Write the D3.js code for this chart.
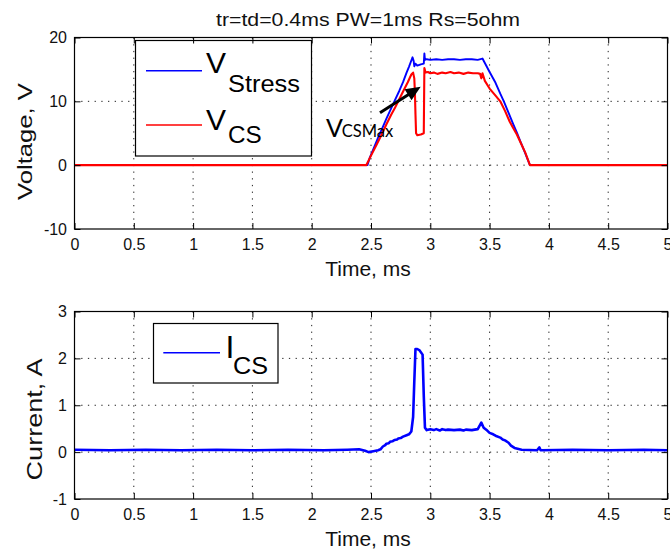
<!DOCTYPE html>
<html><head><meta charset="utf-8">
<script src="https://cdn.jsdelivr.net/npm/d3@7"></script>
<style>
body{margin:0;background:#fff;}
svg{display:block;font-family:"Liberation Sans",Arial,sans-serif;}
</style></head>
<body><svg id="c" width="670" height="553"></svg>
<script>
// ---- data ----
const titleText = "tr=td=0.4ms PW=1ms Rs=5ohm";
const xTicks = [0,0.5,1,1.5,2,2.5,3,3.5,4,4.5,5];
const xTickLabels = ["0","0.5","1","1.5","2","2.5","3","3.5","4","4.5","5"];
const vTicks = [-10,0,10,20];
const vTickLabels = ["-10","0","10","20"];
const iTicks = [-1,0,1,2,3];
const iTickLabels = ["-1","0","1","2","3"];

const vStress = [[0,0],[2.47,0],[2.49,1.2],[2.52,2.5],[2.56,4.3],[2.60,6.0],[2.63,7.3],[2.67,8.9],[2.70,10.1],[2.74,11.7],[2.77,13.0],[2.80,14.5],[2.82,15.4],[2.84,16.4],[2.85,16.9],[2.86,16.3],[2.865,15.5],[2.875,15.9],[2.89,15.6],[2.92,15.8],[2.945,15.9],[2.95,17.5],[2.955,16.5],[2.97,16.6],[3.0,16.5],[3.05,16.6],[3.1,16.5],[3.15,16.6],[3.2,16.6],[3.25,16.5],[3.3,16.6],[3.35,16.6],[3.4,16.5],[3.44,16.7],[3.46,16.0],[3.5,14.6],[3.55,12.9],[3.59,11.2],[3.62,10.0],[3.66,8.2],[3.70,6.4],[3.73,5.1],[3.76,3.7],[3.80,1.9],[3.84,0],[5,0]];
const vCS = [[0,0],[2.46,0],[2.50,1.5],[2.55,3.3],[2.60,5.2],[2.63,6.4],[2.67,7.9],[2.70,8.9],[2.74,10.4],[2.78,11.9],[2.81,13.0],[2.84,14.2],[2.855,14.5],[2.865,13.6],[2.87,11.5],[2.875,8.0],[2.88,5.0],[2.89,4.7],[2.92,4.8],[2.945,5.0],[2.95,15.2],[2.96,14.5],[2.98,14.6],[3.0,14.4],[3.03,14.5],[3.06,14.3],[3.1,14.5],[3.13,14.4],[3.17,14.6],[3.2,14.4],[3.24,14.5],[3.28,14.3],[3.32,14.5],[3.36,14.4],[3.4,14.4],[3.42,14.3],[3.43,13.6],[3.44,14.4],[3.46,13.2],[3.5,12.0],[3.55,10.9],[3.59,10.0],[3.63,8.5],[3.67,6.8],[3.70,5.8],[3.73,4.8],[3.77,3.2],[3.80,2.0],[3.84,0],[5,0]];
const iCS = [[0,0.05],[0.3,0.04],[0.6,0.05],[0.9,0.04],[1.2,0.05],[1.5,0.04],[1.8,0.05],[2.1,0.04],[2.3,0.05],[2.40,0.06],[2.45,0.03],[2.48,0.0],[2.52,0.02],[2.56,0.04],[2.58,0.06],[2.60,0.12],[2.62,0.15],[2.63,0.18],[2.65,0.19],[2.66,0.22],[2.68,0.23],[2.70,0.26],[2.72,0.27],[2.73,0.29],[2.75,0.30],[2.77,0.33],[2.80,0.36],[2.82,0.38],[2.84,0.44],[2.855,0.75],[2.865,1.5],[2.875,2.2],[2.89,2.2],[2.91,2.17],[2.935,2.08],[2.945,1.2],[2.955,0.52],[2.97,0.47],[3.0,0.49],[3.03,0.47],[3.05,0.49],[3.08,0.46],[3.1,0.49],[3.13,0.47],[3.15,0.48],[3.2,0.47],[3.25,0.48],[3.28,0.46],[3.3,0.48],[3.35,0.47],[3.4,0.49],[3.43,0.63],[3.45,0.52],[3.48,0.46],[3.50,0.41],[3.53,0.38],[3.55,0.35],[3.59,0.31],[3.61,0.27],[3.63,0.25],[3.66,0.2],[3.68,0.14],[3.71,0.09],[3.77,0.05],[3.9,0.04],[3.92,0.1],[3.93,0.04],[4.2,0.05],[4.5,0.04],[4.8,0.05],[5,0.04]];

// ---- layout ----
const svg = d3.select("#c");
const L = 74.5, R = 667.5;
const top1 = 37.5, bot1 = 229;
const top2 = 311.5, bot2 = 499;

const x = d3.scaleLinear().domain([0,5]).range([L,R]);
const yV = d3.scaleLinear().domain([-10,20]).range([bot1,top1]);
const yI = d3.scaleLinear().domain([-1,3]).range([bot2,top2]);

function panel(y, yTicks, top, bot){
  const g = svg.append("g");
  g.append("g").selectAll("line").data(xTicks.slice(1,-1)).join("line")
    .attr("x1",d=>x(d)).attr("x2",d=>x(d)).attr("y1",top).attr("y2",bot)
    .attr("stroke","#222").attr("stroke-width",1).attr("stroke-dasharray","1.3,5.4");
  g.append("g").selectAll("line").data(yTicks.slice(1,-1)).join("line")
    .attr("x1",L).attr("x2",R).attr("y1",d=>y(d)).attr("y2",d=>y(d))
    .attr("stroke","#222").attr("stroke-width",1).attr("stroke-dasharray","1.3,5.4");
  return g;
}
function axes(y, yTicks, yLabels, top, bot){
  const g = svg.append("g");
  g.append("g").attr("transform",`translate(0,${bot})`)
    .call(d3.axisBottom(x).tickValues(xTicks).tickFormat((d,i)=>xTickLabels[i]).tickSize(-6).tickPadding(9.6));
  g.append("g").attr("transform",`translate(0,${top})`)
    .call(d3.axisTop(x).tickValues(xTicks).tickFormat("").tickSize(-6));
  g.append("g").attr("transform",`translate(${L},0)`)
    .call(d3.axisLeft(y).tickValues(yTicks).tickFormat((d,i)=>yLabels[i]).tickSize(-6).tickPadding(7.5));
  g.append("g").attr("transform",`translate(${R},0)`)
    .call(d3.axisRight(y).tickValues(yTicks).tickFormat("").tickSize(-6));
  g.selectAll(".domain").remove();
  g.selectAll(".tick line").attr("stroke","#000");
  g.selectAll(".tick text").attr("font-size",16).attr("fill","#111")
    .attr("font-family","'Liberation Sans',Arial,sans-serif");
  g.append("rect").attr("x",L).attr("y",top).attr("width",R-L).attr("height",bot-top)
    .attr("fill","none").attr("stroke","#000").attr("stroke-width",1.2);
}

// ---- top panel ----
panel(yV, vTicks, top1, bot1);
const lineV = d3.line().x(d=>x(d[0])).y(d=>yV(d[1]));
svg.append("path").datum(vStress).attr("d",lineV).attr("fill","none")
  .attr("stroke","#0000ff").attr("stroke-width",1.9).attr("stroke-linejoin","round");
svg.append("path").datum(vCS).attr("d",lineV).attr("fill","none")
  .attr("stroke","#ff0000").attr("stroke-width",2.1).attr("stroke-linejoin","round");

// legend top
svg.append("rect").attr("x",135.5).attr("y",40.5).attr("width",176).attr("height",115.5)
  .attr("fill","#fff").attr("stroke","#000").attr("stroke-width",1.2);
svg.append("line").attr("x1",146).attr("x2",202).attr("y1",70.7).attr("y2",70.7)
  .attr("stroke","#0000ff").attr("stroke-width",1.6);
svg.append("line").attr("x1",146).attr("x2",202).attr("y1",125).attr("y2",125)
  .attr("stroke","#ff0000").attr("stroke-width",1.6);
svg.append("text").attr("x",206).attr("y",73.3).attr("font-size",30).text("V");
svg.append("text").attr("x",228).attr("y",91.7).attr("font-size",23)
  .attr("textLength",72).attr("lengthAdjust","spacingAndGlyphs").text("Stress");
svg.append("text").attr("x",206).attr("y",130).attr("font-size",30).text("V");
svg.append("text").attr("x",228).attr("y",143.3).attr("font-size",24)
  .attr("textLength",33.7).attr("lengthAdjust","spacingAndGlyphs").text("CS");

axes(yV, vTicks, vTickLabels, top1, bot1);

// annotation
svg.append("text").attr("x",326).attr("y",136.7).attr("font-size",25)
  .attr("font-family","Lato,'Open Sans',sans-serif").text("V");
svg.append("text").attr("x",341.7).attr("y",137.3).attr("font-size",16.5)
  .attr("font-family","Lato,'Open Sans',sans-serif")
  .attr("textLength",51.6).attr("lengthAdjust","spacingAndGlyphs").text("CSMax");
{
  const ax0=380, ay0=112.7, ax1=420.7, ay1=86.7;
  const dx=ax1-ax0, dy=ay1-ay0, len=Math.hypot(dx,dy), ux=dx/len, uy=dy/len;
  const hl=15, hw=6.5, bx=ax1-hl*ux, by=ay1-hl*uy;
  svg.append("line").attr("x1",ax0).attr("y1",ay0).attr("x2",bx+2*ux).attr("y2",by+2*uy)
    .attr("stroke","#000").attr("stroke-width",3);
  svg.append("polygon").attr("points",
    `${ax1},${ay1} ${bx-hw*uy},${by+hw*ux} ${bx+hw*uy},${by-hw*ux}`).attr("fill","#000");
}

// ---- bottom panel ----
panel(yI, iTicks, top2, bot2);
const lineI = d3.line().x(d=>x(d[0])).y(d=>yI(d[1]));
svg.append("path").datum(iCS).attr("d",lineI).attr("fill","none")
  .attr("stroke","#0000ff").attr("stroke-width",2.6).attr("stroke-linejoin","round");

svg.append("rect").attr("x",153.5).attr("y",323.5).attr("width",124.5).attr("height",59.5)
  .attr("fill","#fff").attr("stroke","#000").attr("stroke-width",1.2);
svg.append("line").attr("x1",163.3).attr("x2",220).attr("y1",352.7).attr("y2",352.7)
  .attr("stroke","#0000ff").attr("stroke-width",1.6);
svg.append("text").attr("x",225.5).attr("y",358.3).attr("font-size",32).text("I");
svg.append("text").attr("x",233).attr("y",374).attr("font-size",24)
  .attr("textLength",35).attr("lengthAdjust","spacingAndGlyphs").text("CS");

axes(yI, iTicks, iTickLabels, top2, bot2);

// ---- titles & labels ----
svg.append("text").attr("x",216).attr("y",26).attr("font-size",18.5).attr("fill","#111")
  .attr("textLength",304).attr("lengthAdjust","spacingAndGlyphs").text(titleText);
svg.append("text").attr("x",368).attr("y",275.7).attr("font-size",21).attr("fill","#111")
  .attr("text-anchor","middle").text("Time, ms");
svg.append("text").attr("x",368).attr("y",545.7).attr("font-size",21).attr("fill","#111")
  .attr("text-anchor","middle").text("Time, ms");
svg.append("text").attr("transform","translate(32,141.5) rotate(-90)")
  .attr("font-size",21).attr("text-anchor","middle").attr("fill","#111")
  .attr("textLength",117).attr("lengthAdjust","spacingAndGlyphs").text("Voltage, V");
svg.append("text").attr("transform","translate(42,419.5) rotate(-90)")
  .attr("font-size",22).attr("text-anchor","middle").attr("fill","#111")
  .attr("textLength",122).attr("lengthAdjust","spacingAndGlyphs").text("Current, A");
</script></body></html>
